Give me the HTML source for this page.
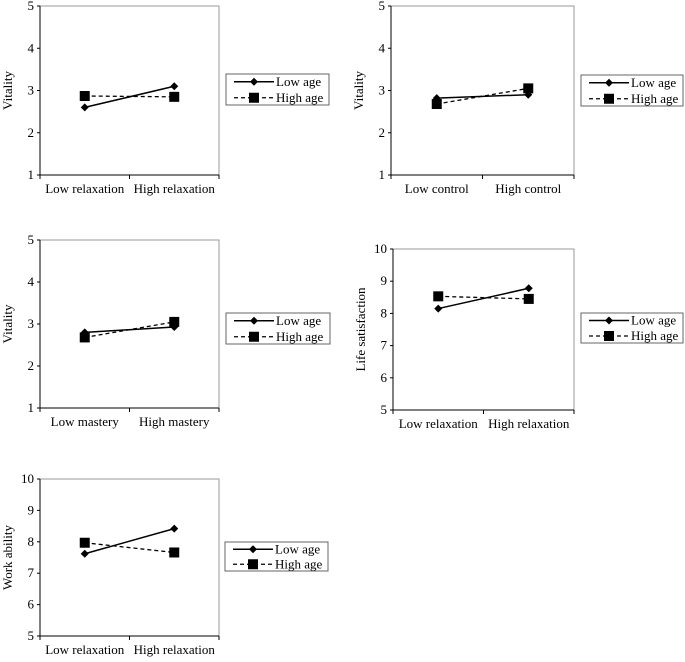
<!DOCTYPE html>
<html><head><meta charset="utf-8"><style>
body{margin:0;background:#fff;width:685px;height:657px;overflow:hidden}
text{font-family:"Liberation Serif",serif;fill:#000}
</style></head><body>
<svg id="svg" width="685" height="657" xmlns="http://www.w3.org/2000/svg"></svg>
<script>
const panelNames=["vitality-relaxation","vitality-control","vitality-mastery","life-satisfaction-relaxation","work-ability-relaxation"];
const yTitles=["Vitality","Vitality","Vitality","Life satisfaction","Work ability"];
const catLabels=[["Low relaxation","High relaxation"],["Low control","High control"],["Low mastery","High mastery"],["Low relaxation","High relaxation"],["Low relaxation","High relaxation"]];
const yTicks=[[1,2,3,4,5],[1,2,3,4,5],[1,2,3,4,5],[5,6,7,8,9,10],[5,6,7,8,9,10]];
const lowAge=[[2.6,3.1],[2.82,2.9],[2.8,2.93],[8.15,8.78],[7.62,8.42]];
const highAge=[[2.87,2.85],[2.68,3.05],[2.68,3.05],[8.53,8.45],[7.97,7.66]];
const seriesNames=["Low age","High age"];
const layout=[
 {x0:40,x1:219,y0:6,y1:175,lx:226,ly:74,lw:103,lh:31},
 {x0:391,x1:574,y0:6,y1:175,lx:581,ly:75,lw:102,lh:31},
 {x0:40,x1:219,y0:240,y1:408,lx:226,ly:313,lw:104,lh:31},
 {x0:393,x1:574,y0:249,y1:410,lx:581,ly:313,lw:102,lh:30},
 {x0:40,x1:219,y0:479,y1:636,lx:225,ly:542,lw:103,lh:29}];
const NS="http://www.w3.org/2000/svg";
const svg=document.getElementById('svg');
function el(t,a,p){const e=document.createElementNS(NS,t);for(const k in a)e.setAttribute(k,a[k]);(p||svg).appendChild(e);return e;}
function diamond(g,x,y){return el('polygon',{points:`${x},${y-4} ${x+4},${y} ${x},${y+4} ${x-4},${y}`,fill:'#000'},g);}
function square(g,x,y){return el('rect',{x:x-5,y:y-5,width:10,height:10,fill:'#000'},g);}
for(let i=0;i<5;i++){
 const L=layout[i];const g=el('g',{});
 
 
 const t=yTicks[i];const ymin=t[0],ymax=t[t.length-1];
 const Y=v=>L.y1-(v-ymin)/(ymax-ymin)*(L.y1-L.y0);
 const X=c=>L.x0+(L.x1-L.x0)*(c*2+1)/4;
 const pa=el('rect',{x:L.x0,y:L.y0,width:L.x1-L.x0,height:L.y1-L.y0,fill:'none',stroke:'#999','stroke-width':1},g);
 
 el('line',{x1:L.x0,y1:L.y0,x2:L.x0,y2:L.y1,stroke:'#000'},g);
 el('line',{x1:L.x0,y1:L.y1,x2:L.x1,y2:L.y1,stroke:'#000'},g);
 t.forEach(v=>{el('line',{x1:L.x0-3,y1:Y(v),x2:L.x0,y2:Y(v),stroke:'#000'},g);
  const tx=el('text',{x:L.x0-6,y:Y(v)+4,'text-anchor':'end','font-size':13},g);tx.textContent=v;
  });
 [0,1,2].forEach(k=>{const xx=L.x0+(L.x1-L.x0)*k/2;el('line',{x1:xx,y1:L.y1,x2:xx,y2:L.y1+4,stroke:'#000'},g);});
 catLabels[i].forEach((c,k)=>{const tx=el('text',{x:X(k),y:L.y1+18,'text-anchor':'middle','font-size':13},g);tx.textContent=c;
  });
 const cy=(L.y0+L.y1)/2;
 const yt=el('text',{x:0,y:0,'text-anchor':'middle','font-size':13,transform:`translate(${L.x0-28},${cy}) rotate(-90)`},g);yt.textContent=yTitles[i];
 
 const lo=el('polyline',{points:lowAge[i].map((v,k)=>X(k)+','+Y(v)).join(' '),fill:'none',stroke:'#000','stroke-width':1.5},g);
 
 const hi=el('polyline',{points:highAge[i].map((v,k)=>X(k)+','+Y(v)).join(' '),fill:'none',stroke:'#000','stroke-width':1.3,'stroke-dasharray':'4,3'},g);
 
 lowAge[i].forEach((v,k)=>{const m=diamond(g,X(k),Y(v));});
 highAge[i].forEach((v,k)=>{const m=square(g,X(k),Y(v));});
 const lg=el('g',{},g);
 
 el('rect',{x:L.lx,y:L.ly,width:L.lw,height:L.lh,fill:'#fff',stroke:'#666'},lg);
 [0,1].forEach(s=>{const yy=L.ly+L.lh*(s*2+1)/4+(s?0.5:0);
  const e=el('g',{},lg);
  
  el('line',{x1:L.lx+8,y1:yy,x2:L.lx+48,y2:yy,stroke:'#000','stroke-width':s?1.3:1.5,'stroke-dasharray':s?'4,3':'none'},e);
  if(s)square(e,L.lx+28,yy);else diamond(e,L.lx+28,yy);
  const tx=el('text',{x:L.lx+50,y:yy+4,'font-size':13},e);tx.textContent=seriesNames[s];});
}
</script>
</body></html>
